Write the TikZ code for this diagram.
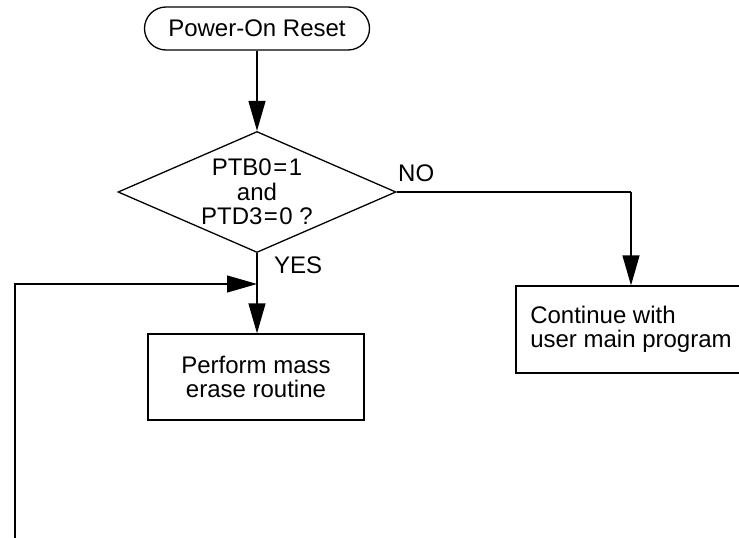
\documentclass[tikz,border=0pt]{standalone}
\usepackage{fontspec}
\setmainfont{Liberation Sans}
\usetikzlibrary{arrows.meta,shapes.geometric}
\begin{document}
\begin{tikzpicture}[x=1pt,y=-1pt,
  every node/.style={font=\fontsize{24}{24.5}\selectfont},
  ln/.style={line width=1.3pt},
  arr/.style={ln,-{Triangle[length=30pt,width=17pt]}},
  term/.style={draw,ln,rounded corners=21.5pt,minimum width=225pt,minimum height=43pt,inner sep=0pt},
  decis/.style={draw,ln,diamond,shape aspect=2.3,minimum width=278pt,minimum height=121pt,inner sep=0pt,align=center},
  proc/.style={draw,ln,rectangle,inner sep=0pt},
  lbl/.style={inner sep=0pt,anchor=base west}]
\useasboundingbox (0,0) rectangle (739,538);
\node[term] (start) at (257,28.5) {Power-On Reset};
\node[decis] (dec) at (257,192) {PTB0\kern1.5pt=\kern1.5pt1\\and\\PTD3\kern1.5pt=\kern1.5pt0 ?};
\node[proc,minimum width=216pt,minimum height=86pt,align=center] (erase) at (256,377) {Perform mass\\erase routine};
\node[proc,minimum width=230pt,minimum height=87pt,align=left] (cont) at (631,329.5) {Continue with\\user main program};
\coordinate (join) at (257,284);
\coordinate (loop) at (15,540);
\coordinate (bend) at (631,192);
\draw[arr] (start) -- (dec);
\draw[arr] (dec.south) -- (erase.north -| dec.south);
\draw[arr] (loop) |- (join);
\draw[ln] (dec.east) -- (bend);
\draw[arr] (bend) -- (cont.north -| bend);
\node[lbl] (yes) at (274,273) {YES};
\node[lbl] (no) at (398,181) {NO};
\end{tikzpicture}
\end{document}
